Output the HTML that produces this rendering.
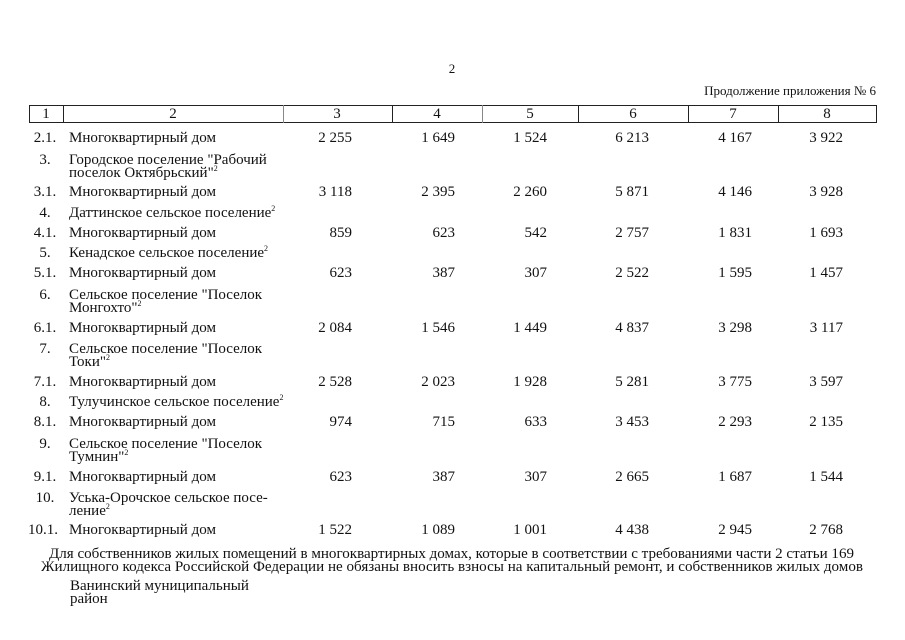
<!DOCTYPE html>
<html>
<head>
<meta charset="utf-8">
<style>
html,body{margin:0;padding:0;background:#fff;}
svg{display:block;}
text{font-family:"Liberation Serif","Noto Serif CJK SC",serif;fill:#111;}
.t{font-size:15px;}
.n{font-size:15px;text-anchor:end;}
.c{font-size:15px;text-anchor:middle;}
.s{font-size:8px;}
</style>
</head>
<body>
<svg width="905" height="640" viewBox="0 0 905 640" xmlns="http://www.w3.org/2000/svg">
<rect width="905" height="640" fill="#fff"/>
<!-- page number -->
<text x="452" y="73" style="font-size:13px" text-anchor="middle">2</text>
<text x="876" y="95" style="font-size:13px" text-anchor="end">Продолжение приложения № 6</text>

<!-- header table -->
<g stroke="#222" stroke-width="1" shape-rendering="crispEdges" fill="none">
<rect x="29.5" y="105.5" width="847" height="17"/>
<line x1="63.5" y1="105" x2="63.5" y2="123"/>
<line x1="283.5" y1="105" x2="283.5" y2="123" stroke="#888"/>
<line x1="392.5" y1="105" x2="392.5" y2="123"/>
<line x1="482.5" y1="105" x2="482.5" y2="123" stroke="#888"/>
<line x1="578.5" y1="105" x2="578.5" y2="123"/>
<line x1="688.5" y1="105" x2="688.5" y2="123"/>
<line x1="778.5" y1="105" x2="778.5" y2="123"/>
</g>
<text class="c" x="46" y="118">1</text>
<text class="c" x="173" y="118">2</text>
<text class="c" x="337" y="118">3</text>
<text class="c" x="437" y="118">4</text>
<text class="c" x="530" y="118">5</text>
<text class="c" x="633" y="118">6</text>
<text class="c" x="733" y="118">7</text>
<text class="c" x="827" y="118">8</text>

<!-- 2.1 -->
<text class="c" x="45" y="142">2.1.</text>
<text class="t" x="69" y="142" textLength="147" lengthAdjust="spacingAndGlyphs">Многоквартирный дом</text>
<text class="n" x="352" y="142">2 255</text><text class="n" x="455" y="142">1 649</text><text class="n" x="547" y="142">1 524</text><text class="n" x="649" y="142">6 213</text><text class="n" x="752" y="142">4 167</text><text class="n" x="843" y="142">3 922</text>

<!-- 3 -->
<text class="c" x="45" y="164">3.</text>
<text class="t" x="69" y="164">Городское поселение "Рабочий</text>
<text class="t" x="69" y="177">поселок Октябрьский"<tspan class="s" dy="-6">2</tspan></text>

<!-- 3.1 -->
<text class="c" x="45" y="196">3.1.</text>
<text class="t" x="69" y="196" textLength="147" lengthAdjust="spacingAndGlyphs">Многоквартирный дом</text>
<text class="n" x="352" y="196">3 118</text><text class="n" x="455" y="196">2 395</text><text class="n" x="547" y="196">2 260</text><text class="n" x="649" y="196">5 871</text><text class="n" x="752" y="196">4 146</text><text class="n" x="843" y="196">3 928</text>

<!-- 4 -->
<text class="c" x="45" y="217">4.</text>
<text class="t" x="69" y="217">Даттинское сельское поселение<tspan class="s" dy="-6">2</tspan></text>

<!-- 4.1 -->
<text class="c" x="45" y="237">4.1.</text>
<text class="t" x="69" y="237" textLength="147" lengthAdjust="spacingAndGlyphs">Многоквартирный дом</text>
<text class="n" x="352" y="237">859</text><text class="n" x="455" y="237">623</text><text class="n" x="547" y="237">542</text><text class="n" x="649" y="237">2 757</text><text class="n" x="752" y="237">1 831</text><text class="n" x="843" y="237">1 693</text>

<!-- 5 -->
<text class="c" x="45" y="257">5.</text>
<text class="t" x="69" y="257">Кенадское сельское поселение<tspan class="s" dy="-6">2</tspan></text>

<!-- 5.1 -->
<text class="c" x="45" y="277">5.1.</text>
<text class="t" x="69" y="277" textLength="147" lengthAdjust="spacingAndGlyphs">Многоквартирный дом</text>
<text class="n" x="352" y="277">623</text><text class="n" x="455" y="277">387</text><text class="n" x="547" y="277">307</text><text class="n" x="649" y="277">2 522</text><text class="n" x="752" y="277">1 595</text><text class="n" x="843" y="277">1 457</text>

<!-- 6 -->
<text class="c" x="45" y="299">6.</text>
<text class="t" x="69" y="299">Сельское поселение "Поселок</text>
<text class="t" x="69" y="312">Монгохто"<tspan class="s" dy="-6">2</tspan></text>

<!-- 6.1 -->
<text class="c" x="45" y="332">6.1.</text>
<text class="t" x="69" y="332" textLength="147" lengthAdjust="spacingAndGlyphs">Многоквартирный дом</text>
<text class="n" x="352" y="332">2 084</text><text class="n" x="455" y="332">1 546</text><text class="n" x="547" y="332">1 449</text><text class="n" x="649" y="332">4 837</text><text class="n" x="752" y="332">3 298</text><text class="n" x="843" y="332">3 117</text>

<!-- 7 -->
<text class="c" x="45" y="353">7.</text>
<text class="t" x="69" y="353">Сельское поселение "Поселок</text>
<text class="t" x="69" y="366">Токи"<tspan class="s" dy="-6">2</tspan></text>

<!-- 7.1 -->
<text class="c" x="45" y="386">7.1.</text>
<text class="t" x="69" y="386" textLength="147" lengthAdjust="spacingAndGlyphs">Многоквартирный дом</text>
<text class="n" x="352" y="386">2 528</text><text class="n" x="455" y="386">2 023</text><text class="n" x="547" y="386">1 928</text><text class="n" x="649" y="386">5 281</text><text class="n" x="752" y="386">3 775</text><text class="n" x="843" y="386">3 597</text>

<!-- 8 -->
<text class="c" x="45" y="406">8.</text>
<text class="t" x="69" y="406">Тулучинское сельское поселение<tspan class="s" dy="-6">2</tspan></text>

<!-- 8.1 -->
<text class="c" x="45" y="426">8.1.</text>
<text class="t" x="69" y="426" textLength="147" lengthAdjust="spacingAndGlyphs">Многоквартирный дом</text>
<text class="n" x="352" y="426">974</text><text class="n" x="455" y="426">715</text><text class="n" x="547" y="426">633</text><text class="n" x="649" y="426">3 453</text><text class="n" x="752" y="426">2 293</text><text class="n" x="843" y="426">2 135</text>

<!-- 9 -->
<text class="c" x="45" y="448">9.</text>
<text class="t" x="69" y="448">Сельское поселение "Поселок</text>
<text class="t" x="69" y="461">Тумнин"<tspan class="s" dy="-6">2</tspan></text>

<!-- 9.1 -->
<text class="c" x="45" y="481">9.1.</text>
<text class="t" x="69" y="481" textLength="147" lengthAdjust="spacingAndGlyphs">Многоквартирный дом</text>
<text class="n" x="352" y="481">623</text><text class="n" x="455" y="481">387</text><text class="n" x="547" y="481">307</text><text class="n" x="649" y="481">2 665</text><text class="n" x="752" y="481">1 687</text><text class="n" x="843" y="481">1 544</text>

<!-- 10 -->
<text class="c" x="45" y="502">10.</text>
<text class="t" x="69" y="502">Уська-Орочское сельское посе-</text>
<text class="t" x="69" y="515">ление<tspan class="s" dy="-6">2</tspan></text>

<!-- 10.1 -->
<text class="c" x="43" y="534">10.1.</text>
<text class="t" x="69" y="534" textLength="147" lengthAdjust="spacingAndGlyphs">Многоквартирный дом</text>
<text class="n" x="352" y="534">1 522</text><text class="n" x="455" y="534">1 089</text><text class="n" x="547" y="534">1 001</text><text class="n" x="649" y="534">4 438</text><text class="n" x="752" y="534">2 945</text><text class="n" x="843" y="534">2 768</text>

<!-- footer -->
<text class="t" x="49" y="558" textLength="805" lengthAdjust="spacingAndGlyphs">Для собственников жилых помещений в многоквартирных домах, которые в соответствии с требованиями части 2 статьи 169</text>
<text class="t" x="41" y="571" textLength="822" lengthAdjust="spacingAndGlyphs">Жилищного кодекса Российской Федерации не обязаны вносить взносы на капитальный ремонт, и собственников жилых домов</text>

<text class="t" x="70" y="590">Ванинский муниципальный</text>
<text class="t" x="70" y="603">район</text>
</svg>
</body>
</html>
